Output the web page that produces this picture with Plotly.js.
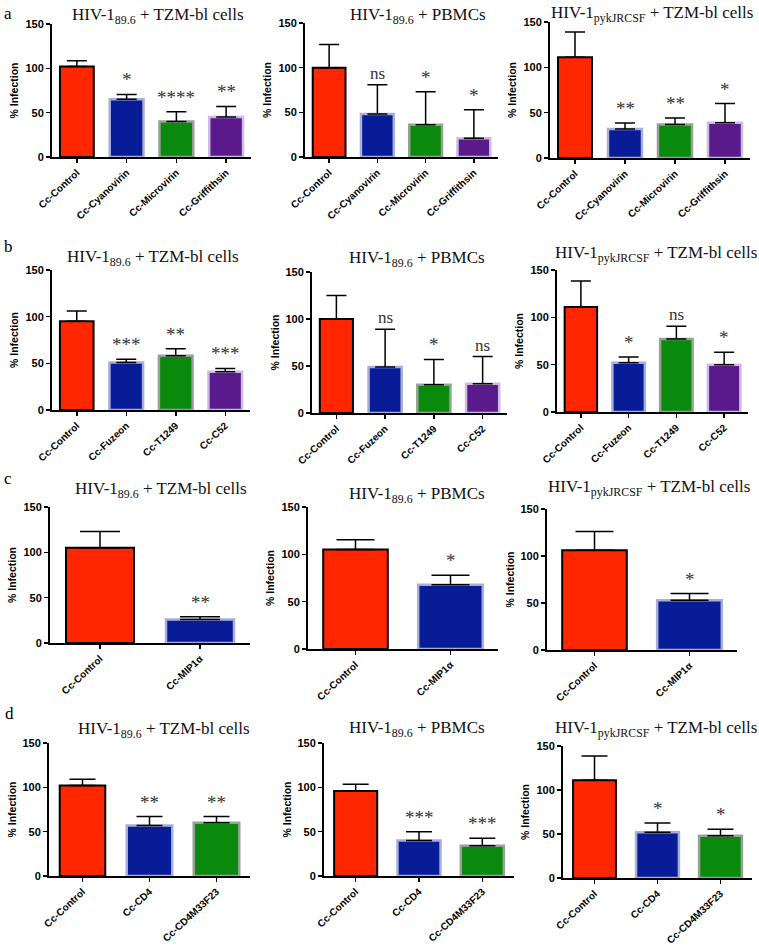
<!DOCTYPE html>
<html>
<head>
<meta charset="utf-8">
<script src="https://cdn.plot.ly/plotly-3.0.1.min.js"></script>
<style>
  body { margin: 0; background: #fff; }
  #chart { width: 759px; height: 947px; }
</style>
</head>
<body>
<div id="chart"></div>
<script>
// Categories
const catsA = ['Cc-Control', 'Cc-Cyanovirin', 'Cc-Microvirin', 'Cc-Griffithsin'];
const catsB = ['Cc-Control', 'Cc-Fuzeon', 'Cc-T1249', 'Cc-C52'];
const catsC = ['Cc-Control', 'Cc-MIP1α'];
const catsD = ['Cc-Control', 'Cc-CD4', 'Cc-CD4M33F23'];

// % infection (mean) and upper error (SD) per panel
const a1Vals = [102, 65, 40, 45];
const a1Err = [6.5, 5.5, 11, 12];
const a1Sig = ['', '*', '****', '**'];
const a2Vals = [100, 48, 36, 21];
const a2Err = [26, 33, 37, 32];
const a2Sig = ['', 'ns', '*', '*'];
const a3Vals = [111, 32, 37, 39];
const a3Err = [28, 6.5, 7, 21];
const a3Sig = ['', '**', '**', '*'];

const b1Vals = [95, 51, 58, 41];
const b1Err = [11, 3.5, 7.5, 3.5];
const b1Sig = ['', '***', '**', '***'];
const b2Vals = [100, 49, 30, 31];
const b2Err = [25, 40, 27, 29];
const b2Sig = ['', 'ns', '*', 'ns'];
const b3Vals = [111, 52, 77, 50];
const b3Err = [27.5, 6, 13.5, 13];
const b3Sig = ['', '*', 'ns', '*'];

const c1Vals = [105, 26];
const c1Err = [18, 3];
const c1Sig = ['', '**'];
const c2Vals = [105, 68];
const c2Err = [10.5, 10];
const c2Sig = ['', '*'];
const c3Vals = [106, 53];
const c3Err = [20, 7];
const c3Sig = ['', '*'];

const d1Vals = [102, 57, 60];
const d1Err = [7, 10, 7];
const d1Sig = ['', '**', '**'];
const d2Vals = [96, 40, 34];
const d2Err = [7.5, 10, 8.5];
const d2Sig = ['', '***', '***'];
const d3Vals = [111, 52, 48];
const d3Err = [27.5, 10.5, 7.5];
const d3Sig = ['', '*', '*'];

const yTicks = [0, 50, 100, 150];
const titleTZM = 'HIV-1<sub>89.6</sub> + TZM-bl cells';
const titlePBMC = 'HIV-1<sub>89.6</sub> + PBMCs';
const titleJR = 'HIV-1<sub>pykJRCSF</sub> + TZM-bl cells';

// Styling
const fillColors = ['#ff2600', '#071c96', '#0a8a0c', '#5a1a8c'];
const edgeColors = ['#000000', '#a9aed8', '#98a198', '#cbbde2'];
const edgeWidths = [2, 2.5, 2.5, 2.5];

const W = 759, H = 947;
const px = x => x / W;
const py = y => 1 - y / H;

// [axis x, axis end x, y of 150, y of 0] in pixels, plus title centre
const panels = [
    { cats: catsA, vals: a1Vals, err: a1Err, sig: a1Sig, title: titleTZM, box: [52, 251, 24, 157], tpos: [158, 16] },
    { cats: catsA, vals: a2Vals, err: a2Err, sig: a2Sig, title: titlePBMC, box: [305, 498, 23, 157], tpos: [418, 16] },
    { cats: catsA, vals: a3Vals, err: a3Err, sig: a3Sig, title: titleJR, box: [550, 750, 22, 158], tpos: [652, 14] },
    { cats: catsB, vals: b1Vals, err: b1Err, sig: b1Sig, title: titleTZM, box: [52, 250, 270, 410], tpos: [153, 258] },
    { cats: catsB, vals: b2Vals, err: b2Err, sig: b2Sig, title: titlePBMC, box: [312, 507, 272, 413], tpos: [417, 259] },
    { cats: catsB, vals: b3Vals, err: b3Err, sig: b3Sig, title: titleJR, box: [557, 748, 270, 412], tpos: [656, 254] },
    { cats: catsC, vals: c1Vals, err: c1Err, sig: c1Sig, title: titleTZM, box: [50, 250, 507, 643], tpos: [161, 490] },
    { cats: catsC, vals: c2Vals, err: c2Err, sig: c2Sig, title: titlePBMC, box: [308, 498, 507, 649], tpos: [417, 495] },
    { cats: catsC, vals: c3Vals, err: c3Err, sig: c3Sig, title: titleJR, box: [547, 737, 509, 650], tpos: [649, 488] },
    { cats: catsD, vals: d1Vals, err: d1Err, sig: d1Sig, title: titleTZM, box: [49, 250, 743, 876], tpos: [164, 730] },
    { cats: catsD, vals: d2Vals, err: d2Err, sig: d2Sig, title: titlePBMC, box: [324, 514, 743, 876], tpos: [417, 729] },
    { cats: catsD, vals: d3Vals, err: d3Err, sig: d3Sig, title: titleJR, box: [563, 752, 746, 878], tpos: [656, 729] }
];

const letters = [['a', 8, 13], ['b', 8, 246], ['c', 8, 478], ['d', 9, 713]];

const sansFamily = 'Liberation Sans, Arial, sans-serif';
const tickFontX = { family: sansFamily, size: 10, color: '#000', weight: 'bold' };
const tickFontY = { family: sansFamily, size: 11, color: '#000', weight: 'bold' };
const serif = 'Liberation Serif, Times New Roman, serif';

const traces = [];
const layout = {
    width: W,
    height: H,
    margin: { l: 0, r: 0, t: 0, b: 0 },
    showlegend: false,
    paper_bgcolor: '#ffffff',
    plot_bgcolor: 'rgba(0,0,0,0)',
    bargap: 0.32,
    annotations: []
};

panels.forEach((p, i) => {
    const suffix = i === 0 ? '' : String(i + 1);
    const n = p.cats.length;
    const [x0, x1, yTop, yBot] = p.box;
    const slot = (x1 - x0) / n;

    traces.push({
        type: 'bar',
        x: p.cats,
        y: p.vals,
        xaxis: 'x' + suffix,
        yaxis: 'y' + suffix,
        marker: {
            color: fillColors.slice(0, n),
            line: { color: edgeColors.slice(0, n), width: edgeWidths.slice(0, n) }
        },
        error_y: {
            type: 'data',
            symmetric: false,
            array: p.err,
            arrayminus: p.err.map(() => 0),
            color: '#000',
            thickness: 1.5,
            width: Math.round(slot * 0.2)
        },
        hoverinfo: 'skip'
    });

    layout['xaxis' + suffix] = {
        domain: [px(x0), px(x1)],
        anchor: 'y' + suffix,
        type: 'category',
        range: [-0.5, n - 0.5],
        showline: true,
        linecolor: '#000',
        linewidth: 2,
        ticks: 'outside',
        ticklen: 4,
        tickwidth: 1.5,
        tickcolor: '#000',
        tickangle: -43,
        tickfont: tickFontX,
        showgrid: false,
        zeroline: false,
        fixedrange: true
    };
    layout['yaxis' + suffix] = {
        domain: [py(yBot), py(yTop)],
        anchor: 'x' + suffix,
        range: [0, 150],
        tickvals: yTicks,
        ticktext: yTicks.map(String),
        showline: true,
        linecolor: '#000',
        linewidth: 2,
        ticks: 'outside',
        ticklen: 4,
        tickwidth: 1.5,
        tickcolor: '#000',
        tickfont: tickFontY,
        showgrid: false,
        zeroline: false,
        fixedrange: true
    };

    // panel title
    layout.annotations.push({
        xref: 'paper', yref: 'paper',
        x: px(p.tpos[0]), y: py(p.tpos[1]),
        xanchor: 'center', yanchor: 'middle',
        text: p.title, showarrow: false,
        font: { family: serif, size: 17, color: '#111' }
    });

    // y axis title
    layout.annotations.push({
        xref: 'paper', yref: 'paper',
        x: px(x0 - 38), y: py((yTop + yBot) / 2),
        xanchor: 'center', yanchor: 'middle',
        text: '% Infection', textangle: -90, showarrow: false,
        font: { family: sansFamily, size: 10.5, color: '#000', weight: 'bold' }
    });

    // significance marks above error bars
    p.sig.forEach((s, j) => {
        if (!s) return;
        const star = s.indexOf('*') >= 0;
        layout.annotations.push({
            xref: 'x' + suffix, yref: 'y' + suffix,
            x: p.cats[j], y: p.vals[j] + p.err[j],
            xanchor: 'center', yanchor: 'bottom',
            yshift: star ? 2 : 0,
            text: s, showarrow: false,
            font: { family: serif, size: star ? 19 : 17, color: '#333' }
        });
    });
});

letters.forEach(([t, x, y]) => {
    layout.annotations.push({
        xref: 'paper', yref: 'paper',
        x: px(x), y: py(y),
        xanchor: 'center', yanchor: 'middle',
        text: t, showarrow: false,
        font: { family: serif, size: 17, color: '#000' }
    });
});

Plotly.newPlot('chart', traces, layout, { staticPlot: true, displayModeBar: false });
</script>
</body>
</html>
